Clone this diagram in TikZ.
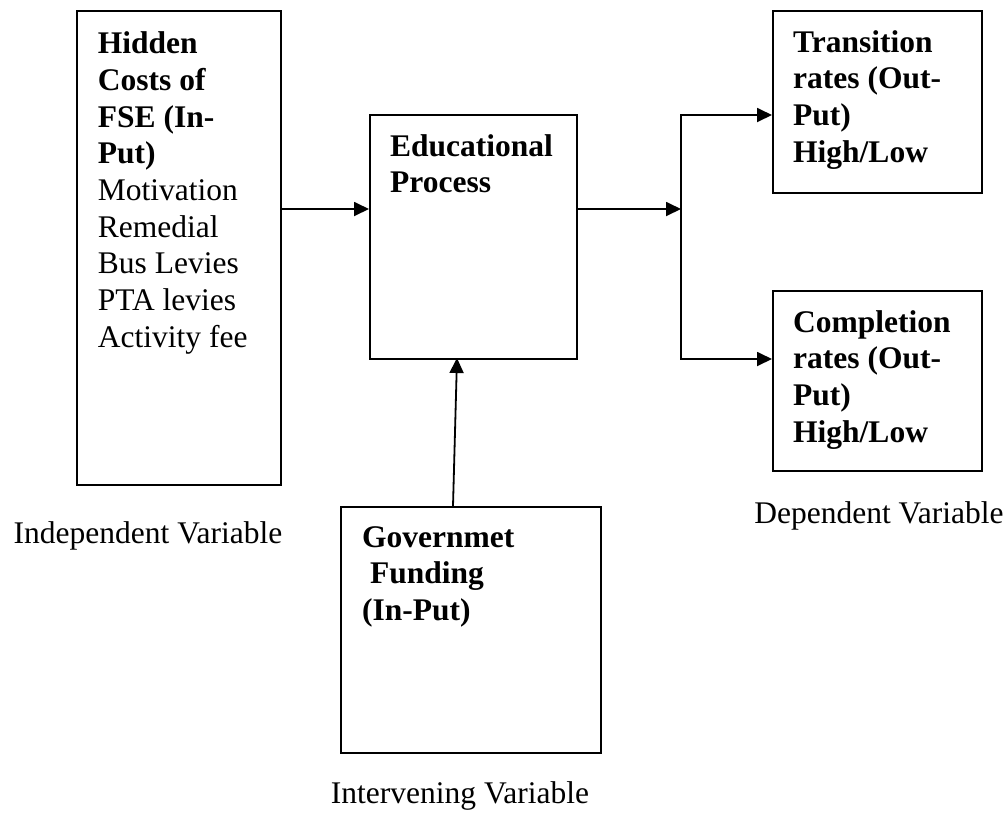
\documentclass[tikz,border=0pt]{standalone}
\usepackage{fontspec}
\setmainfont{Liberation Serif}
\usetikzlibrary{arrows.meta,calc}
\begin{document}
\begin{tikzpicture}[x=1pt,y=-1pt,
  box/.style={draw, line width=1.8pt, rectangle, inner sep=0pt, anchor=north west},
  txt/.style={inner sep=0pt, anchor=north west, align=left, font=\fontsize{31.5}{36.7}\selectfont},
  lbl/.style={inner sep=0pt, anchor=base, font=\fontsize{31.5}{36.7}\selectfont},
  arr/.style={line width=1.8pt, -{Triangle[length=15pt,width=14pt]}},
  ln/.style={line width=1.8pt, line cap=rect}]
\useasboundingbox (0,0) rectangle (1007,812);

% boxes
\node[box, minimum width=204pt, minimum height=474pt] (L) at (76,10) {};
\node[box, minimum width=207pt, minimum height=244pt] (E) at (369,114) {};
\node[box, minimum width=209pt, minimum height=182pt] (T) at (772,10) {};
\node[box, minimum width=209pt, minimum height=180pt] (C) at (772,290) {};
\node[box, minimum width=260pt, minimum height=246pt] (G) at (340,506) {};

% box texts
\node[txt] (Lt) at ([shift={(21.7pt,-21.7pt)}]L.north west)
  {\textbf{Hidden}\\ \textbf{Costs of}\\ \textbf{FSE (In-}\\ \textbf{Put)}\\ Motivation\\ Remedial\\ Bus Levies\\ PTA levies\\ Activity fee};
\node[txt] (Et) at ([shift={(21pt,-20pt)}]E.north west)
  {\textbf{Educational}\\ \textbf{Process}};
\node[txt] (Tt) at ([shift={(21pt,-20pt)}]T.north west)
  {\textbf{Transition}\\ \textbf{rates (Out-}\\ \textbf{Put)}\\ \textbf{High/Low}};
\node[txt] (Ct) at ([shift={(21pt,-20pt)}]C.north west)
  {\textbf{Completion}\\ \textbf{rates (Out-}\\ \textbf{Put)}\\ \textbf{High/Low}};
\node[txt] (Gt) at ([shift={(22pt,-20pt)}]G.north west)
  {\textbf{Governmet}\\ \hspace*{0.25em}\textbf{Funding}\\ \textbf{(In-Put)}};

% captions
\node[lbl] (li) at (148,543) {Independent Variable};
\node[lbl] (ld) at (879,523) {Dependent Variable};
\node[lbl] (lv) at (460,803) {Intervening Variable};

% connectors
\coordinate (a) at (0,209);
\draw[arr] (L.east |- a) -- (E.west |- a);
\coordinate (J) at (681,209);
\draw[arr] (E.east |- J) -- (J);
\coordinate (J1) at (681,115);
\coordinate (J2) at (681,359);
\draw[ln] (J1) -- (J2);
\draw[arr] (J1) -- (T.west |- J1);
\draw[arr] (J2) -- (C.west |- J2);
\coordinate (Gin) at (453,506);
\coordinate (Ein) at (457,358);
\draw[arr] (Gin) -- (Ein);
\end{tikzpicture}
\end{document}
